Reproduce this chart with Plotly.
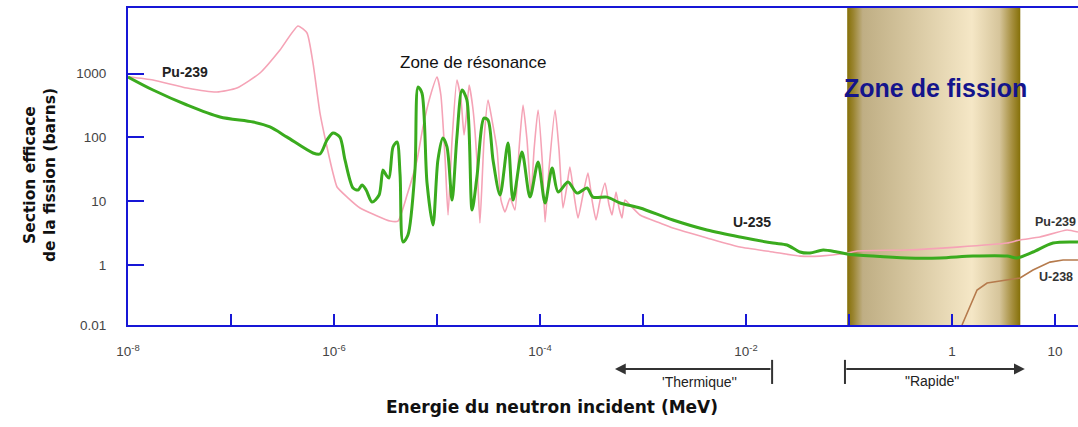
import math
import plotly.graph_objects as go

# ---------------- data ----------------
u235_energy_mev = [1e-8, 1.75e-8, 3.74e-8, 7.82e-8, 1.64e-7, 2.39e-7, 3.50e-7, 6.25e-7, 7.31e-7, 8.55e-7,
                   9.77e-7, 1.14e-6, 1.28e-6, 1.53e-6, 1.71e-6, 1.87e-6, 2.05e-6, 2.34e-6, 2.74e-6, 2.99e-6,
                   3.20e-6, 3.42e-6, 3.74e-6, 4.09e-6, 4.38e-6, 4.68e-6, 5.22e-6, 6.11e-6, 6.55e-6, 7.14e-6,
                   8.00e-6, 9.14e-6, 1.02e-5, 1.14e-5, 1.25e-5, 1.40e-5, 1.56e-5, 1.75e-5, 1.95e-5, 2.19e-5,
                   2.44e-5, 2.86e-5, 3.13e-5, 3.50e-5, 4.09e-5, 4.89e-5, 5.47e-5, 6.68e-5, 8.00e-5, 9.57e-5,
                   1.12e-4, 1.31e-4, 1.50e-4, 1.87e-4, 2.29e-4, 2.86e-4, 3.27e-4, 4.47e-4, 5.98e-4, 9.35e-4,
                   1.95e-3, 4.18e-3, 8.75e-3, 1.83e-2, 2.50e-2, 3.34e-2, 4.18e-2, 5.60e-2, 7.64e-2, 9.57e-2,
                   0.171, 0.366, 0.764, 1.60, 3.42, 4.28, 6.11, 9.57, 16.7]
u235_sigma_barn = [885, 553, 322, 209, 174, 146, 101, 57, 55, 91,
                   117, 101, 44, 16.1, 15.0, 17.9, 15.0, 9.7, 12.5, 30.8,
                   25.8, 23.1, 70.8, 84.7, 25.8, 2.29, 2.95, 30.8, 617, 497,
                   19.3, 4.24, 44, 98, 70.8, 10.4, 101, 553, 386, 7.28,
                   23.9, 201, 187, 44, 12.5, 81.7, 10.4, 59.0, 11.6, 41.1,
                   9.37, 33.1, 13.9, 20.0, 13.4, 16.1, 11.6, 11.6, 9.37, 7.82,
                   5.08, 3.54, 2.75, 2.21, 2.06, 1.60, 1.54, 1.72, 1.60, 1.49,
                   1.38, 1.29, 1.29, 1.38, 1.38, 1.29, 1.60, 2.21, 2.29]

pu239_energy_mev = [1.00e-8, 1.75e-8, 3.74e-8, 7.31e-8, 1.14e-7, 1.91e-7, 2.99e-7, 4.47e-7, 5.47e-7, 6.25e-7,
                    7.31e-7, 8.55e-7, 9.77e-7, 1.07e-6, 1.34e-6, 1.79e-6, 2.50e-6, 3.50e-6, 4.18e-6, 5.12e-6,
                    6.40e-6, 7.31e-6, 8.55e-6, 1.00e-5, 1.09e-5, 1.20e-5, 1.28e-5, 1.40e-5, 1.56e-5, 1.71e-5,
                    1.83e-5, 1.91e-5, 2.05e-5, 2.24e-5, 2.44e-5, 2.61e-5, 2.86e-5, 3.13e-5, 3.42e-5, 3.83e-5,
                    4.18e-5, 4.57e-5, 5.12e-5, 5.71e-5, 6.25e-5, 6.84e-5, 7.48e-5, 8.18e-5, 8.75e-5, 9.57e-5,
                    1.05e-4, 1.12e-4, 1.22e-4, 1.40e-4, 1.53e-4, 1.67e-4, 1.83e-4, 1.95e-4, 2.14e-4, 2.34e-4,
                    2.61e-4, 2.92e-4, 3.20e-4, 3.50e-4, 3.83e-4, 4.28e-4, 4.68e-4, 5.00e-4, 5.47e-4, 5.85e-4,
                    6.25e-4, 6.68e-4, 7.48e-4, 9.35e-4, 1.46e-3, 1.95e-3, 4.18e-3, 8.75e-3, 1.83e-2, 3.34e-2,
                    5.22e-2, 9.57e-2, 0.120, 0.366, 1.12, 3.42, 4.57, 7.14, 13.1, 16.7]
pu239_sigma_barn = [894, 794, 594, 515, 594, 1021, 2344, 5570, 4325, 1466,
                    241, 70.8, 27.7, 16.7, 11.6, 7.82, 6.08, 4.89, 4.89, 12.5,
                    44.3, 146, 430, 885, 462, 44.3, 6.08, 91.1, 794, 386,
                    109, 187, 663, 269, 44.3, 4.55, 91.1, 386, 187, 63.5,
                    10.4, 6.77, 11.2, 7.28, 63.5, 322, 91.1, 12.5, 63.5, 269,
                    44.3, 4.72, 30.8, 269, 63.5, 7.82, 17.9, 34.4, 12.5, 5.45,
                    12.5, 27.7, 10.4, 5.08, 10.4, 19.3, 8.72, 6.08, 13.9, 7.82,
                    5.45, 10.4, 8.72, 6.08, 4.55, 3.80, 2.65, 1.91, 1.60, 1.38,
                    1.38, 1.54, 1.66, 1.72, 1.91, 2.21, 2.47, 2.75, 3.54, 3.29]

u238_energy_mev = [1.25, 1.50, 1.75, 2.19, 3.42, 4.57, 6.11, 8.93, 11.97, 16.7]
u238_sigma_barn = [0.115, 0.220, 0.406, 0.522, 0.582, 0.626, 0.835, 1.11, 1.20, 1.20]

x_tick_values = [1e-8, 1e-7, 1e-6, 1e-5, 1e-4, 1e-3, 1e-2, 1e-1, 1, 10]
x_tick_labels = ["10<sup>-8</sup>", "", "10<sup>-6</sup>", "", "10<sup>-4</sup>", "",
                 "10<sup>-2</sup>", "", "1", "10"]
y_tick_values = [0.1148, 1, 10, 100, 1000]
y_tick_labels = ["0.01", "1", "10", "100", "1000"]

fission_zone_mev = [0.096, 4.6]

# ---------------- figure ----------------
X_RANGE = [-8, 1.223]
Y_RANGE = [-0.94, 4.028]
FONT = "Arial, Liberation Sans, sans-serif"
WIDE = "DejaVu Sans, Verdana, sans-serif"
BLUE = "#1717d6"

fig = go.Figure()

y_lo, y_hi = 10 ** Y_RANGE[0], 10 ** Y_RANGE[1]
fig.add_trace(go.Scatter(
    x=[fission_zone_mev[0], fission_zone_mev[1], fission_zone_mev[1], fission_zone_mev[0], fission_zone_mev[0]],
    y=[y_lo, y_lo, y_hi, y_hi, y_lo],
    mode="lines", line=dict(width=0), fill="toself",
    fillgradient=dict(type="horizontal", colorscale=[
        [0.0, "#857008"], [0.035, "#9a8430"], [0.09, "#bfae84"], [0.35, "#d5c59e"],
        [0.72, "#f5e7c6"], [0.88, "#d6c59b"], [0.955, "#a48d3c"], [1.0, "#857008"]]),
    hoverinfo="skip", showlegend=False))

fig.add_trace(go.Scatter(x=pu239_energy_mev, y=pu239_sigma_barn, mode="lines",
                         line=dict(color="#f5a3b6", width=1.6, shape="spline", smoothing=0.5),
                         name="Pu-239", showlegend=False))
fig.add_trace(go.Scatter(x=u238_energy_mev, y=u238_sigma_barn, mode="lines",
                         line=dict(color="#b57a4c", width=1.6), name="U-238", showlegend=False))
fig.add_trace(go.Scatter(x=u235_energy_mev, y=u235_sigma_barn, mode="lines",
                         line=dict(color="#3aab1e", width=3, shape="spline", smoothing=0.8),
                         name="U-235", showlegend=False))

annotations = [
    dict(text="Zone de résonance", x=0.364, y=0.8265, font=dict(size=17, color="#111", family=FONT)),
    dict(text="<b>Zone de fission</b>", x=0.8495, y=0.7476, font=dict(size=25, color="#14148c", family=FONT)),
    dict(text="<b>Pu-239</b>", x=0.060, y=0.798, font=dict(size=14, color="#222", family=FONT)),
    dict(text="<b>U-235</b>", x=0.6568, y=0.325, font=dict(size=14, color="#222", family=FONT)),
    dict(text="<b>Pu-239</b>", x=0.9758, y=0.325, font=dict(size=12.5, color="#333", family=FONT)),
    dict(text="<b>U-238</b>", x=0.9768, y=0.1514, font=dict(size=12.5, color="#333", family=FONT)),
    dict(text="'Thermique''", x=0.602, y=-0.1798, font=dict(size=14, color="#222", family=FONT)),
    dict(text="\"Rapide\"", x=0.8463, y=-0.1767, font=dict(size=14, color="#222", family=FONT)),
    dict(text="<b>Energie du neutron incident (MeV)</b>", x=0.4463, y=-0.2587,
         font=dict(size=17, color="#111", family=WIDE)),
    dict(text="<b>Section efficace<br>de la fission (barns)</b>", x=-0.0926, y=0.473, textangle=-90,
         font=dict(size=15.5, color="#111", family=WIDE)),
]
for a in annotations:
    a.update(xref="paper", yref="paper", showarrow=False, xanchor="center", yanchor="middle")

# range arrows
arrow_y = -0.1388
annotations.append(dict(x=0.5126, y=arrow_y, xref="paper", yref="paper", ax=157, ay=0,
                        showarrow=True, arrowhead=2, arrowsize=1.2, arrowwidth=1.8, arrowcolor="#333", text=""))
annotations.append(dict(x=0.944, y=arrow_y, xref="paper", yref="paper", ax=-180, ay=0,
                        showarrow=True, arrowhead=2, arrowsize=1.2, arrowwidth=1.8, arrowcolor="#333", text=""))

shapes = [
    dict(type="line", xref="paper", yref="paper", x0=0.678, x1=0.678, y0=-0.110, y1=-0.186,
         line=dict(color="#333", width=2)),
    dict(type="line", xref="paper", yref="paper", x0=0.7547, x1=0.7547, y0=-0.110, y1=-0.186,
         line=dict(color="#333", width=2)),
]

fig.update_layout(
    width=1078, height=427, autosize=False,
    margin=dict(l=128, r=0, t=8, b=102),
    paper_bgcolor="white", plot_bgcolor="white",
    font=dict(family=FONT, color="#333"),
    annotations=annotations, shapes=shapes,
    xaxis=dict(type="log", range=X_RANGE, showline=True, linecolor=BLUE, linewidth=2, mirror=True,
               ticks="inside", ticklen=11, tickwidth=2, tickcolor=BLUE,
               tickvals=x_tick_values, ticktext=x_tick_labels, tickfont=dict(size=13.5, color="#444"),
               showgrid=False, zeroline=False, ticklabelstandoff=13),
    yaxis=dict(type="log", range=Y_RANGE, showline=True, linecolor=BLUE, linewidth=2,
               ticks="inside", ticklen=16, tickwidth=2, tickcolor=BLUE,
               tickvals=y_tick_values, ticktext=y_tick_labels, tickfont=dict(size=13.5, color="#444"),
               showgrid=False, zeroline=False, ticklabelstandoff=17),
    showlegend=False,
)

fig.write_html("out.html")
